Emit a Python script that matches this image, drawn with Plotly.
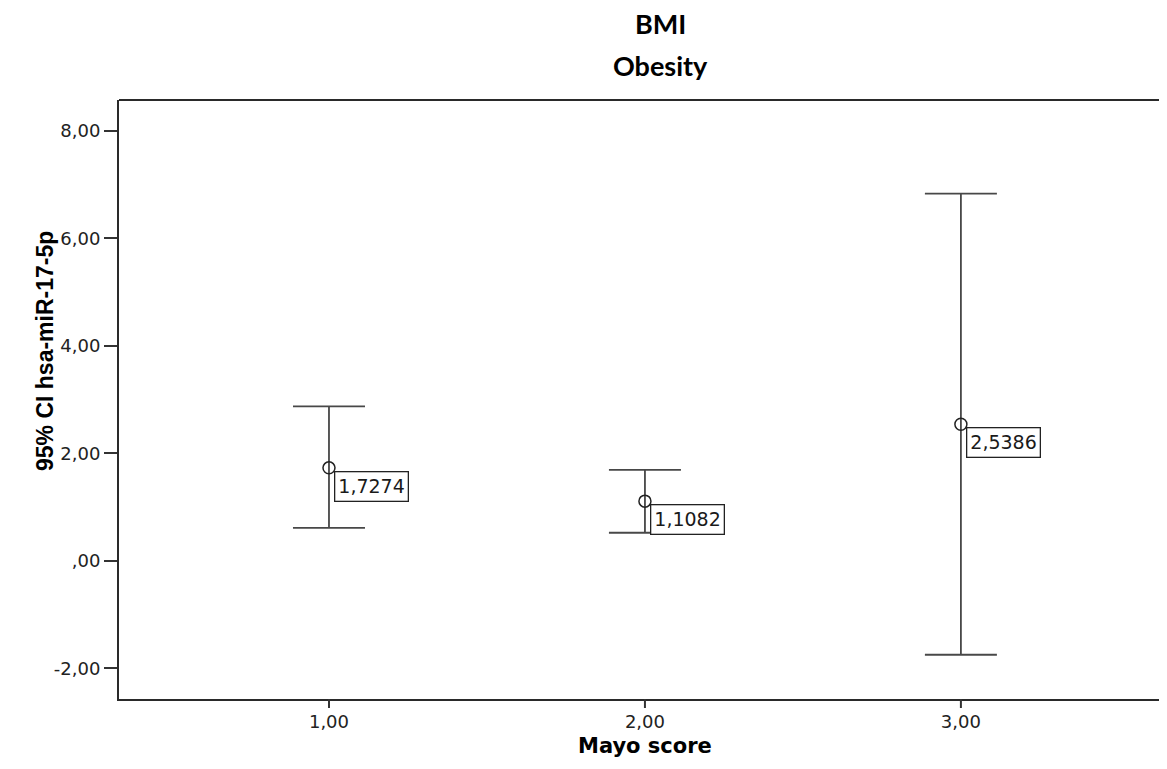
import plotly.graph_objects as go

# Data
groups = [1.0, 2.0, 3.0]
group_labels = ["1,00", "2,00", "3,00"]
means = [1.7274, 1.1082, 2.5386]
mean_labels = ["1,7274", "1,1082", "2,5386"]
ci_upper = [2.87, 1.69, 6.83]
ci_lower = [0.61, 0.52, -1.75]
y_ticks = [-2, 0, 2, 4, 6, 8]
y_tick_labels = ["-2,00", ",00", "2,00", "4,00", "6,00", "8,00"]

err_plus = [u - m for u, m in zip(ci_upper, means)]
err_minus = [m - l for m, l in zip(means, ci_lower)]

NUM_FONT = "DejaVu Sans"
fig = go.Figure()
fig.add_trace(go.Scatter(
    x=groups, y=means, mode="markers",
    marker=dict(symbol="circle-open", size=12, color="#222222", line=dict(width=1.5, color="#222222")),
    error_y=dict(type="data", symmetric=False, array=err_plus, arrayminus=err_minus,
                 color="#484848", thickness=1.8, width=36),
    showlegend=False, hoverinfo="skip",
))

for x, y, t in zip(groups, means, mean_labels):
    fig.add_annotation(x=x, y=y, xref="x", yref="y", text=t, showarrow=False,
                       xanchor="left", yanchor="top", xshift=5, yshift=-3,
                       font=dict(family=NUM_FONT, size=19, color="#1a1a1a"),
                       bgcolor="white", bordercolor="#222222", borderwidth=1.3, borderpad=3)

# page has an 8px body margin; figure sized to fit the window
W, H = 1151, 753
fig.update_layout(
    width=W, height=H,
    margin=dict(l=111, r=0, t=92, b=62),
    paper_bgcolor="white", plot_bgcolor="white",
    xaxis=dict(range=[0.3354, 3.627], tickvals=groups, ticktext=group_labels,
               showgrid=False, zeroline=False, showline=True, linecolor="#2a2a2a", linewidth=2,
               ticks="", ticklabelstandoff=5,
               tickfont=dict(family=NUM_FONT, size=18, color="#222222")),
    yaxis=dict(range=[-2.573, 8.571], tickvals=y_ticks, ticktext=y_tick_labels,
               showgrid=False, zeroline=False, showline=True, linecolor="#2a2a2a", linewidth=2,
               ticks="outside", ticklen=13, tickwidth=2, tickcolor="#333333",
               tickfont=dict(family=NUM_FONT, size=18, color="#222222")),
)

# x tick marks below the axis
for g in groups:
    fig.add_shape(type="line", xref="x", yref="paper", x0=g, x1=g, ysizemode="pixel",
                  yanchor=0, y0=0, y1=-9, line=dict(color="#333333", width=2))

# top border of the plot frame
fig.add_shape(type="line", xref="paper", yref="paper", x0=0, x1=1, y0=1, y1=1,
              line=dict(color="#2a2a2a", width=2))

PW = W - 111
# titles
fig.add_annotation(text="<b>BMI</b>", xref="paper", yref="paper", x=(660 - 119) / PW, y=1,
                   yshift=77, xanchor="center", yanchor="middle", showarrow=False,
                   font=dict(family="Lato", size=27, color="black"))
fig.add_annotation(text="<b>Obesity</b>", xref="paper", yref="paper", x=(660 - 119) / PW, y=1,
                   yshift=35, xanchor="center", yanchor="middle", showarrow=False,
                   font=dict(family="Lato", size=27, color="black"))
fig.add_annotation(text="<b>Mayo score</b>", xref="paper", yref="paper", x=(645 - 119) / PW, y=0,
                   yshift=-47, xanchor="center", yanchor="middle", showarrow=False,
                   font=dict(family="DejaVu Sans", size=21, color="black"))
fig.add_annotation(text="<b>95% CI hsa-miR-17-5p</b>", xref="paper", yref="paper", x=0, y=(699 - 351) / 599,
                   xshift=-74, xanchor="center", yanchor="middle", showarrow=False, textangle=-90,
                   font=dict(family="Liberation Sans, Arial", size=23, color="black"))

fig.write_html("out.html")
